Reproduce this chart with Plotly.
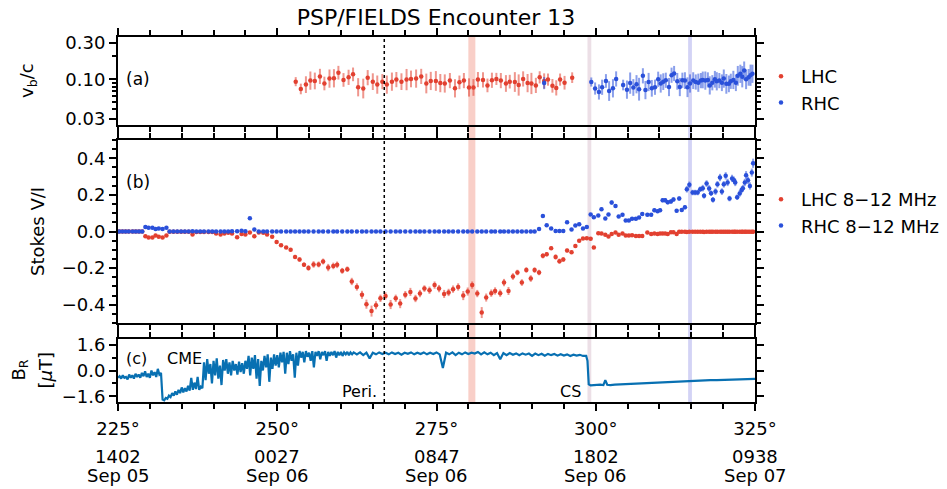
import numpy as np
import plotly.graph_objects as go

FONT = "DejaVu Sans"
RED = "rgb(226,64,48)"
RED_ERR = "rgba(226,64,48,0.55)"
BLUE = "rgb(42,80,218)"
BLUE_ERR = "rgba(42,80,218,0.55)"
LINE_BLUE = "rgb(8,112,178)"

# ---------------- panel (a): v_b / c ----------------
a_lhc_deg = [252.9, 253.7, 254.5, 255.2, 255.9, 256.7, 257.4, 258.2, 258.9, 259.6,
             260.4, 261.2, 261.9, 262.7, 263.5, 264.2, 265.0, 265.7, 266.5, 267.2,
             268.0, 268.7, 269.5, 270.3, 271.0, 271.8, 272.6, 273.4, 274.1, 274.9,
             275.6, 276.3, 277.1, 277.9, 278.6, 279.3, 280.1, 280.8, 281.5, 282.3,
             283.0, 283.7, 284.4, 285.1, 285.9, 286.5, 287.3, 287.9, 288.6, 289.3,
             289.9, 290.6, 291.2, 291.9, 292.5, 293.2, 293.8, 294.4, 295.1, 296.3]
a_lhc_vb = [0.093, 0.0745, 0.085, 0.096, 0.095, 0.109, 0.088, 0.102, 0.103, 0.122,
            0.098, 0.106, 0.116, 0.0785, 0.0755, 0.105, 0.093, 0.085, 0.093, 0.085,
            0.093, 0.099, 0.093, 0.099, 0.101, 0.102, 0.109, 0.088, 0.095, 0.095,
            0.089, 0.088, 0.096, 0.076, 0.091, 0.096, 0.078, 0.078, 0.099, 0.098,
            0.083, 0.097, 0.101, 0.096, 0.088, 0.093, 0.092, 0.084, 0.101, 0.089,
            0.088, 0.083, 0.106, 0.095, 0.099, 0.082, 0.077, 0.099, 0.090, 0.105]
a_lhc_err_dex = [0.06, 0.07, 0.11, 0.12, 0.11, 0.10, 0.09, 0.12, 0.12, 0.09,
                 0.09, 0.10, 0.09, 0.12, 0.13, 0.10, 0.11, 0.12, 0.10, 0.12,
                 0.12, 0.10, 0.11, 0.14, 0.11, 0.12, 0.10, 0.13, 0.12, 0.13,
                 0.12, 0.12, 0.10, 0.12, 0.09, 0.10, 0.12, 0.11, 0.10, 0.10,
                 0.09, 0.10, 0.08, 0.10, 0.11, 0.09, 0.13, 0.14, 0.10, 0.12,
                 0.14, 0.10, 0.08, 0.10, 0.08, 0.09, 0.10, 0.08, 0.09, 0.07]

a_rhc_deg = [291.9, 299.3, 299.9, 300.5, 301.0, 301.6, 302.1, 302.7, 303.2, 304.3,
             304.9, 305.4, 305.9, 306.4, 306.8, 307.4, 307.8, 308.3, 308.8, 309.3,
             309.8, 310.2, 310.6, 311.0, 311.5, 311.9, 312.3, 312.8, 313.2, 313.6,
             314.0, 314.4, 314.8, 315.3, 315.7, 316.1, 316.5, 316.8, 317.2, 317.6,
             317.9, 318.3, 318.7, 319.0, 319.4, 319.8, 320.1, 320.5, 320.9, 321.2,
             321.6, 322.0, 322.3, 322.7, 323.0, 323.3, 323.6, 324.0, 324.3, 324.6]
a_rhc_vb = [0.089, 0.092, 0.0755, 0.068, 0.0785, 0.095, 0.070, 0.076, 0.101, 0.084,
            0.073, 0.089, 0.078, 0.086, 0.074, 0.111, 0.072, 0.092, 0.076, 0.0785,
            0.100, 0.088, 0.093, 0.097, 0.079, 0.113, 0.119, 0.094, 0.079, 0.097,
            0.096, 0.0785, 0.088, 0.096, 0.092, 0.090, 0.096, 0.098, 0.096, 0.098,
            0.083, 0.090, 0.100, 0.094, 0.096, 0.090, 0.102, 0.087, 0.087, 0.094,
            0.098, 0.090, 0.111, 0.118, 0.108, 0.130, 0.100, 0.106, 0.113, 0.118]
a_rhc_err_dex = [0.08, 0.06, 0.08, 0.10, 0.10, 0.09, 0.13, 0.12, 0.10, 0.07,
                 0.12, 0.14, 0.11, 0.12, 0.15, 0.10, 0.12, 0.12, 0.11, 0.10,
                 0.10, 0.12, 0.11, 0.10, 0.12, 0.10, 0.10, 0.11, 0.12, 0.10,
                 0.11, 0.13, 0.12, 0.11, 0.10, 0.12, 0.10, 0.11, 0.12, 0.10,
                 0.12, 0.10, 0.11, 0.12, 0.10, 0.11, 0.12, 0.13, 0.11, 0.10,
                 0.12, 0.11, 0.13, 0.12, 0.14, 0.12, 0.13, 0.11, 0.14, 0.12]

# ---------------- panel (b): Stokes V/I ----------------
b_deg = [225.2, 225.7, 226.2, 226.7, 227.3, 227.8, 228.3, 228.8,
         229.3, 229.8, 230.4, 230.9, 231.4, 232.0, 232.6,
         233.1, 233.7, 234.3, 234.9, 235.5, 236.1, 236.7, 237.3, 237.9, 238.5,
         239.2, 239.8, 240.4, 241.1, 241.7, 242.3, 242.9, 243.7, 244.4, 245.0,
         245.7, 246.4, 247.1, 247.8, 248.4, 249.2, 249.9, 250.6, 251.4, 252.1,
         252.8, 253.5, 254.2, 254.9, 255.7, 256.5, 257.2, 258.0, 258.8,
         259.4, 260.2, 261.0, 261.7, 262.5, 263.3, 264.0, 264.8, 265.5, 266.2,
         267.0, 267.8, 268.6, 269.3, 270.1, 270.9, 271.7, 272.4, 273.1, 273.9,
         274.7, 275.4, 276.2, 276.9, 277.6, 278.4, 279.2, 279.9, 280.6, 281.4,
         282.1, 282.8, 283.6, 284.2, 285.0, 285.6, 286.3, 287.0, 287.7, 288.4,
         289.1, 289.8, 290.4, 291.1,
         291.7, 292.3, 293.0, 293.7, 294.3, 294.9, 295.5, 296.2, 296.8, 297.4,
         298.0, 298.6, 299.2, 299.7, 300.4, 300.9, 301.5, 302.0, 302.5, 303.1,
         303.6, 304.2, 304.7, 305.2, 305.7, 306.3, 306.8, 307.3, 308.1, 308.7,
         309.2, 309.7, 310.1, 310.5, 310.9, 311.3, 311.8, 312.2, 312.7, 313.1,
         313.5, 314.0, 314.3, 314.7, 315.2, 315.6, 316.0, 316.4, 316.8, 317.0,
         317.4, 317.8, 318.1, 318.4, 318.8, 319.1, 319.5, 319.8, 320.1, 320.4,
         320.7, 321.0, 321.4, 321.7, 321.9, 322.2, 322.6, 322.9, 323.1, 323.4,
         323.6, 323.9, 324.2, 324.5, 324.7]
b_lhc = [0.0, 0.0, 0.0, 0.0, 0.0, 0.0, 0.0, 0.0,
         -0.026, -0.033, -0.033, -0.022, -0.029, -0.033, -0.022,
         -0.002, -0.002, -0.002, -0.002, -0.002, -0.002, -0.016, -0.003, -0.003, -0.003,
         -0.003, -0.003, -0.011, -0.016, -0.011, -0.007, -0.011, -0.031, -0.013, -0.016,
         -0.005, -0.026, -0.005, -0.007, -0.016, -0.029, -0.057, -0.075, -0.088, -0.100,
         -0.139, -0.153, -0.182, -0.199, -0.180, -0.180, -0.164, -0.197, -0.188,
         -0.182, -0.215, -0.206, -0.273, -0.303, -0.346, -0.397, -0.435, -0.403, -0.365,
         -0.352, -0.399, -0.365, -0.394, -0.345, -0.330, -0.366, -0.339, -0.312, -0.321,
         -0.293, -0.312, -0.341, -0.333, -0.315, -0.303, -0.350, -0.328, -0.293, -0.339,
         -0.443, -0.361, -0.337, -0.325, -0.337, -0.279, -0.325, -0.246, -0.224, -0.279,
         -0.210, -0.257, -0.211, -0.224,
         -0.133, -0.124, -0.091, -0.139, -0.162, -0.153, -0.104, -0.113, -0.079, -0.051,
         -0.038, -0.037, -0.040, -0.087, -0.009, -0.011, -0.018, -0.027, -0.013, -0.005,
         -0.018, -0.011, -0.022, -0.022, -0.020, -0.025, -0.024, -0.025, -0.005, -0.014,
         -0.011, -0.014, -0.011, -0.011, -0.011, -0.014, -0.004, -0.004, -0.014, -0.002,
         -0.002, -0.002, -0.003, -0.002, -0.001, -0.002, -0.002, -0.001, -0.002, -0.003,
         -0.001, -0.002, -0.001, -0.002, -0.002, -0.001, -0.002, -0.001, -0.002, -0.001,
         -0.002, -0.001, -0.002, -0.002, -0.001, -0.002, -0.001, -0.002, -0.001, -0.002,
         -0.001, -0.002, -0.001, -0.002, -0.001]
b_rhc = [0.0, 0.0, 0.0, 0.0, 0.0, 0.0, 0.0, 0.0,
         0.025, 0.020, 0.020, 0.014, 0.016, 0.014, 0.020,
         0.0, 0.0, 0.0, 0.0, 0.0, 0.0, 0.002, 0.0, 0.0, 0.0,
         0.0, 0.0, 0.0, 0.0, 0.0, 0.0, 0.002, 0.002, 0.004, 0.002,
         0.073, 0.011, 0.0, 0.0, 0.0, 0.0, 0.0, 0.0, 0.0, 0.0,
         0.0, 0.0, 0.0, 0.0, 0.0, 0.0, 0.0, 0.0, 0.0,
         0.0, 0.0, 0.0, 0.0, 0.0, 0.0, 0.0, 0.0, 0.0, 0.0,
         0.0, 0.0, 0.0, 0.0, 0.0, 0.0, 0.0, 0.0, 0.0, 0.0,
         0.0, 0.0, 0.0, 0.0, 0.0, 0.0, 0.0, 0.0, 0.0, 0.0,
         0.0, 0.0, 0.0, 0.0, 0.0, 0.0, 0.0, 0.0, 0.0, 0.0,
         0.0, 0.0, 0.0, 0.013,
         0.085, 0.034, 0.016, 0.003, 0.003, 0.003, 0.051, 0.011, 0.033, 0.040,
         0.016, 0.025, 0.093, 0.078, 0.087, 0.122, 0.071, 0.093, 0.158, 0.140,
         0.082, 0.091, 0.060, 0.060, 0.069, 0.069, 0.076, 0.096, 0.091, 0.091,
         0.116, 0.111, 0.116, 0.171, 0.171, 0.160, 0.164, 0.175, 0.113, 0.180,
         0.118, 0.133, 0.231, 0.255, 0.213, 0.213, 0.213, 0.231, 0.237, 0.195,
         0.262, 0.235, 0.209, 0.173, 0.218, 0.258, 0.295, 0.218, 0.258, 0.304,
         0.268, 0.180, 0.290, 0.280, 0.268, 0.187, 0.208, 0.227, 0.237, 0.268,
         0.308, 0.280, 0.249, 0.322, 0.373]
b_lhc_err = [0.003, 0.003, 0.003, 0.003, 0.003, 0.003, 0.003, 0.003,
             0.005, 0.005, 0.005, 0.005, 0.005, 0.005, 0.005,
             0.004, 0.004, 0.004, 0.004, 0.004, 0.004, 0.004, 0.004, 0.004, 0.004,
             0.004, 0.004, 0.004, 0.004, 0.004, 0.004, 0.004, 0.004, 0.004, 0.004,
             0.004, 0.004, 0.004, 0.004, 0.004, 0.004, 0.004, 0.006, 0.006, 0.008,
             0.010, 0.012, 0.012, 0.015, 0.018, 0.016, 0.016, 0.020, 0.018,
             0.018, 0.016, 0.015, 0.020, 0.020, 0.022, 0.025, 0.030, 0.022, 0.020,
             0.020, 0.025, 0.020, 0.025, 0.020, 0.022, 0.020, 0.020, 0.018, 0.020,
             0.020, 0.020, 0.022, 0.020, 0.020, 0.020, 0.025, 0.022, 0.020, 0.020,
             0.030, 0.022, 0.020, 0.020, 0.020, 0.020, 0.022, 0.018, 0.015, 0.018,
             0.015, 0.018, 0.015, 0.015,
             0.014, 0.012, 0.010, 0.014, 0.014, 0.012, 0.010, 0.010, 0.008, 0.006,
             0.006, 0.006, 0.006, 0.008, 0.004, 0.004, 0.004, 0.004, 0.004, 0.004,
             0.004, 0.004, 0.004, 0.004, 0.004, 0.004, 0.004, 0.004, 0.004, 0.004,
             0.004, 0.004, 0.004, 0.004, 0.004, 0.004, 0.004, 0.004, 0.004, 0.004,
             0.004, 0.004, 0.004, 0.004, 0.004, 0.004, 0.004, 0.004, 0.004, 0.004,
             0.004, 0.004, 0.004, 0.004, 0.004, 0.004, 0.004, 0.004, 0.004, 0.004,
             0.004, 0.004, 0.004, 0.004, 0.004, 0.004, 0.004, 0.004, 0.004, 0.004,
             0.004, 0.004, 0.004, 0.004, 0.004]
b_rhc_err = [0.003, 0.003, 0.003, 0.003, 0.003, 0.003, 0.003, 0.003,
             0.004, 0.004, 0.004, 0.004, 0.004, 0.004, 0.004,
             0.003, 0.003, 0.003, 0.003, 0.003, 0.003, 0.003, 0.003, 0.003, 0.003,
             0.003, 0.003, 0.003, 0.003, 0.003, 0.003, 0.003, 0.003, 0.003, 0.003,
             0.006, 0.004, 0.003, 0.003, 0.003, 0.003, 0.003, 0.003, 0.003, 0.003,
             0.003, 0.003, 0.003, 0.003, 0.003, 0.003, 0.003, 0.003, 0.003,
             0.003, 0.003, 0.003, 0.003, 0.003, 0.003, 0.003, 0.003, 0.003, 0.003,
             0.003, 0.003, 0.003, 0.003, 0.003, 0.003, 0.003, 0.003, 0.003, 0.003,
             0.003, 0.003, 0.003, 0.003, 0.003, 0.003, 0.003, 0.003, 0.003, 0.003,
             0.003, 0.003, 0.003, 0.003, 0.003, 0.003, 0.003, 0.003, 0.003, 0.003,
             0.003, 0.003, 0.003, 0.004,
             0.008, 0.006, 0.005, 0.004, 0.004, 0.004, 0.006, 0.004, 0.005, 0.005,
             0.005, 0.005, 0.008, 0.008, 0.008, 0.010, 0.008, 0.008, 0.012, 0.010,
             0.008, 0.008, 0.008, 0.008, 0.008, 0.008, 0.008, 0.008, 0.008, 0.008,
             0.010, 0.010, 0.010, 0.012, 0.012, 0.012, 0.012, 0.012, 0.010, 0.012,
             0.010, 0.012, 0.018, 0.018, 0.015, 0.015, 0.015, 0.015, 0.018, 0.015,
             0.018, 0.018, 0.015, 0.015, 0.018, 0.018, 0.020, 0.018, 0.018, 0.020,
             0.020, 0.015, 0.020, 0.020, 0.020, 0.015, 0.018, 0.018, 0.018, 0.020,
             0.022, 0.020, 0.020, 0.022, 0.025]

# ---------------- panel (c): B_R ----------------
br_deg_fine = list(np.round(np.arange(225.0, 262.001, 0.25), 2))      # 149 samples
br_deg_flat = list(np.round(np.arange(262.5, 298.501, 0.5), 2))       # 73 samples
br_deg_after = [298.7, 298.8, 298.9, 299.2, 299.7, 300.2, 300.7, 301.2, 301.5, 301.8,
                302.3, 303.0, 304.0, 305.0, 306.0, 307.0, 308.0, 309.0, 310.0, 311.0,
                312.0, 313.0, 314.0, 315.0, 316.0, 317.0, 318.0, 319.0, 320.0, 321.0,
                322.0, 323.0, 324.0, 325.0]
br_val_fine = [-0.45, -0.35, -0.50, -0.30, -0.45, -0.40, -0.55, -0.25, -0.45, -0.30,
               -0.50, -0.20, -0.40, -0.25, -0.45, -0.15, -0.35, -0.05, -0.40, -0.20,
               -0.45, 0.00, -0.30, -0.10, -0.40, 0.10, -0.25, -0.15,
               -1.80, -1.85, -1.70, -1.75, -1.55, -1.65, -1.40, -1.55, -1.30, -1.50,
               -1.20, -1.40, -1.05, -1.35, -1.10, -1.30, -0.95, -1.25, -0.45, -1.20,
               -0.75, -1.15, -0.40, -1.20, -1.00, -1.10,
               0.50, -0.60, 0.70, -0.20, 0.40, -0.80, 0.60, -0.30, 0.75, -0.50,
               0.30, -0.90, 0.65, 0.00, 0.70, -0.20, 0.50, -0.30, 0.60, 0.00,
               0.40, -0.25, 0.55, -0.10, 0.45, -0.20, 0.60, 0.10, 0.90, -0.30,
               0.80, 0.10, 0.95, -0.50, 0.70, -0.95, 0.60, 0.00, 0.90, 0.20,
               1.00, -0.70, 0.80, 0.10, 1.00, 0.30, 0.95, 0.20, 1.10, 0.50,
               1.15, -0.20, 1.10, 0.40, 1.20, 0.60, 1.00, -0.45, 1.10, 0.30,
               1.20, 0.80, 1.15, 0.50, 1.20, 0.85, 1.10, 0.60, 1.20, 0.20,
               1.15, 0.90, 1.20, 0.70, 1.15, 0.95, 1.20, 0.60, 1.15, 0.90,
               1.15, 0.95, 1.20, 0.80, 1.15, 0.95, 1.15, 0.90, 1.12, 1.00,
               1.15, 0.95, 1.12, 1.00, 1.12]
br_val_flat = [1.00, 1.12, 0.95, 1.10, 0.75, 1.10, 1.00, 1.12, 1.02, 1.10,
               1.00, 1.12, 1.02, 1.10, 0.98, 1.10, 1.03, 1.12, 1.00, 1.10,
               1.02, 1.12, 1.00, 1.10, 1.02, 1.12, 1.00, 0.15, 1.10, 1.00,
               1.12, 0.95, 1.10, 1.00, 1.12, 1.02, 1.10, 1.05, 1.15, 1.00,
               1.12, 1.00, 1.10, 0.95, 1.08, 0.70, 1.08, 0.95, 1.08, 0.98,
               1.06, 0.95, 1.06, 0.98, 1.05, 0.90, 1.05, 0.95, 1.04, 0.92,
               1.03, 0.95, 1.02, 0.92, 1.01, 0.93, 1.00, 0.90, 0.98, 0.92,
               0.97, 0.90, 0.90]
br_val_after = [0.60, -0.20, -0.85, -0.92, -0.90, -0.92, -0.88, -0.90, -0.60, -0.88,
                -0.90, -0.88, -0.86, -0.84, -0.82, -0.80, -0.77, -0.75, -0.72, -0.71,
                -0.69, -0.67, -0.66, -0.65, -0.63, -0.62, -0.60, -0.59, -0.58, -0.57,
                -0.56, -0.55, -0.53, -0.52]
br_deg = br_deg_fine + br_deg_flat + br_deg_after
br_val = br_val_fine + br_val_flat + br_val_after

# ---------------- axes / labels ----------------
deg_ticks = [225, 250, 275, 300, 325]
deg_ticktext = ["225°", "250°", "275°", "300°", "325°"]
time_hhmm = ["1402", "0027", "0847", "1802", "0938"]
time_date = ["Sep 05", "Sep 06", "Sep 06", "Sep 06", "Sep 07"]
peri_deg = 266.8
bands = [(280.0, 281.1, "rgba(240,140,125,0.42)"),
         (298.7, 299.3, "rgba(205,170,190,0.38)"),
         (314.5, 315.1, "rgba(140,140,230,0.38)")]

# ---------------- geometry (pixels) ----------------
W, H = 947, 489
L, R, T, B = 118, 755, 37, 402
PH = B - T
def pyd(top, bot):
    return [(B - bot) / PH, (B - top) / PH]
def px(xp):
    return (xp - L) / (R - L)
def py(yp):
    return (B - yp) / PH

fig = go.Figure()

def log_err(vals, dex, up):
    return [v * (10 ** e - 1) if up else v * (1 - 10 ** (-e)) for v, e in zip(vals, dex)]

fig.add_trace(go.Scatter(
    x=a_lhc_deg, y=a_lhc_vb, mode="markers", name="LHC",
    marker=dict(color=RED, size=4.5), xaxis="x", yaxis="y", legend="legend",
    error_y=dict(type="data", symmetric=False, array=log_err(a_lhc_vb, a_lhc_err_dex, True),
                 arrayminus=log_err(a_lhc_vb, a_lhc_err_dex, False),
                 color=RED_ERR, thickness=2, width=0)))
fig.add_trace(go.Scatter(
    x=a_rhc_deg, y=a_rhc_vb, mode="markers", name="RHC",
    marker=dict(color=BLUE, size=4.5), xaxis="x", yaxis="y", legend="legend",
    error_y=dict(type="data", symmetric=False, array=log_err(a_rhc_vb, a_rhc_err_dex, True),
                 arrayminus=log_err(a_rhc_vb, a_rhc_err_dex, False),
                 color=BLUE_ERR, thickness=2, width=0)))

fig.add_trace(go.Scatter(
    x=b_deg, y=b_lhc, mode="markers", name="LHC 8\u221212 MHz",
    marker=dict(color=RED, size=4.5), xaxis="x2", yaxis="y2", legend="legend2",
    error_y=dict(type="data", array=b_lhc_err, color=RED_ERR, thickness=2, width=0)))
fig.add_trace(go.Scatter(
    x=b_deg, y=b_rhc, mode="markers", name="RHC 8\u221212 MHz",
    marker=dict(color=BLUE, size=4.5), xaxis="x2", yaxis="y2", legend="legend2",
    error_y=dict(type="data", array=b_rhc_err, color=BLUE_ERR, thickness=2, width=0)))

fig.add_trace(go.Scatter(
    x=br_deg, y=br_val, mode="lines", line=dict(color=LINE_BLUE, width=2.2),
    xaxis="x3", yaxis="y3", showlegend=False))

axis_common = dict(showline=True, linecolor="black", linewidth=2, mirror="allticks",
                   ticks="outside", tickcolor="black", tickwidth=1.5,
                   showgrid=False, zeroline=False,
                   tickfont=dict(family=FONT, size=18, color="black"))
xcommon = dict(axis_common, range=[225, 325], tickvals=deg_ticks, ticklen=7,
               minor=dict(dtick=5, tick0=225, ticks="outside", ticklen=5, tickwidth=1.5,
                          tickcolor="black", showgrid=False))

layout = dict(
    width=W, height=H, autosize=False,
    margin=dict(l=L, r=W - R, t=T, b=H - B, pad=0, autoexpand=False),
    paper_bgcolor="white", plot_bgcolor="white",
    font=dict(family=FONT, size=18, color="black"),
    title=dict(text="PSP/FIELDS Encounter 13", x=px(436), xref="paper", xanchor="center",
               y=1 - 17 / H, yref="container", yanchor="middle",
               font=dict(family=FONT, size=22, color="black")),
    xaxis=dict(xcommon, domain=[0, 1], anchor="y", showticklabels=False),
    xaxis2=dict(xcommon, domain=[0, 1], anchor="y2", showticklabels=False, matches="x"),
    xaxis3=dict(xcommon, domain=[0, 1], anchor="y3", showticklabels=True, matches="x",
                ticktext=deg_ticktext, ticklabelstandoff=2),
    yaxis=dict(axis_common, domain=pyd(37, 125), anchor="x", type="log",
               range=[np.log10(0.025), np.log10(0.36)],
               tickvals=[0.03, 0.1, 0.3], ticktext=["0.03", "0.10", "0.30"], ticklen=7,
               minor=dict(tickvals=[0.04, 0.05, 0.06, 0.07, 0.08, 0.09, 0.2],
                          ticks="outside", ticklen=4, tickwidth=1.5, tickcolor="black",
                          showgrid=False)),
    yaxis2=dict(axis_common, domain=pyd(140, 323), anchor="x2", range=[-0.5, 0.5],
                tickvals=[-0.4, -0.2, 0.0, 0.2, 0.4], tickformat=".1f", ticklen=7,
                minor=dict(dtick=0.05, tick0=0, ticks="outside", ticklen=4, tickwidth=1.5,
                           tickcolor="black", showgrid=False)),
    yaxis3=dict(axis_common, domain=pyd(339, 402), anchor="x3", range=[-1.95, 1.95],
                tickvals=[-1.6, 0.0, 1.6], tickformat=".1f", ticklen=7,
                minor=dict(tickvals=[-0.8, 0.8], ticks="outside", ticklen=4, tickwidth=1.5,
                           tickcolor="black", showgrid=False)),
    legend=dict(x=px(761), y=py(58), xanchor="left", yanchor="top",
                bgcolor="rgba(0,0,0,0)", font=dict(family=FONT, size=18),
                itemsizing="trace"),
    legend2=dict(x=px(761), y=py(181), xanchor="left", yanchor="top",
                 bgcolor="rgba(0,0,0,0)", font=dict(family=FONT, size=18),
                 itemsizing="trace"),
)
fig.update_layout(**layout)

shapes = []
for x0, x1, col in bands:
    shapes.append(dict(type="rect", xref="x3", yref="paper", x0=x0, x1=x1, y0=0, y1=1,
                       fillcolor=col, line=dict(width=0), layer="below"))
shapes.append(dict(type="line", xref="x3", yref="paper", x0=peri_deg, x1=peri_deg, y0=0, y1=1,
                   line=dict(color="black", width=1.5, dash="3px,3px"), layer="above"))
fig.update_layout(shapes=shapes)

ann = []
for d, hh, dd in zip(deg_ticks, time_hhmm, time_date):
    ann.append(dict(x=d, xref="x3", y=py(456.7), yref="paper", text=hh, showarrow=False,
                    xanchor="center", yanchor="middle", font=dict(size=18)))
    ann.append(dict(x=d, xref="x3", y=py(475), yref="paper", text=dd, showarrow=False,
                    xanchor="center", yanchor="middle", font=dict(size=18)))
ann += [
    dict(x=226.0, xref="x", y=-1.0, yref="y", text="(a)", showarrow=False, xanchor="left",
         yanchor="middle", font=dict(size=17)),
    dict(x=226.0, xref="x2", y=0.27, yref="y2", text="(b)", showarrow=False, xanchor="left",
         yanchor="middle", font=dict(size=17)),
    dict(x=226.0, xref="x3", y=0.75, yref="y3", text="(c)", showarrow=False, xanchor="left",
         yanchor="middle", font=dict(size=16)),
    dict(x=232.3, xref="x3", y=0.75, yref="y3", text="CME", showarrow=False, xanchor="left",
         yanchor="middle", font=dict(size=16)),
    dict(x=265.9, xref="x3", y=-1.3, yref="y3", text="Peri.", showarrow=False, xanchor="right",
         yanchor="middle", font=dict(size=16)),
    dict(x=296.1, xref="x3", y=-1.3, yref="y3", text="CS", showarrow=False, xanchor="center",
         yanchor="middle", font=dict(size=16)),
    dict(x=px(28), xref="paper", y=py(81), yref="paper", text="v<sub>b</sub>/c", showarrow=False,
         textangle=-90, xanchor="center", yanchor="middle", font=dict(size=18)),
    dict(x=px(37.5), xref="paper", y=py(231.5), yref="paper", text="Stokes V/I", showarrow=False,
         textangle=-90, xanchor="center", yanchor="middle", font=dict(size=18)),
    dict(x=px(19), xref="paper", y=py(370.5), yref="paper", text="B<sub>R</sub>", showarrow=False,
         textangle=-90, xanchor="center", yanchor="middle", font=dict(size=18)),
    dict(x=px(45), xref="paper", y=py(370.5), yref="paper", text="[<i>\u03bc</i>T]", showarrow=False,
         textangle=-90, xanchor="center", yanchor="middle", font=dict(size=18)),
]
fig.update_layout(annotations=ann)

fig.write_html("out.html")
